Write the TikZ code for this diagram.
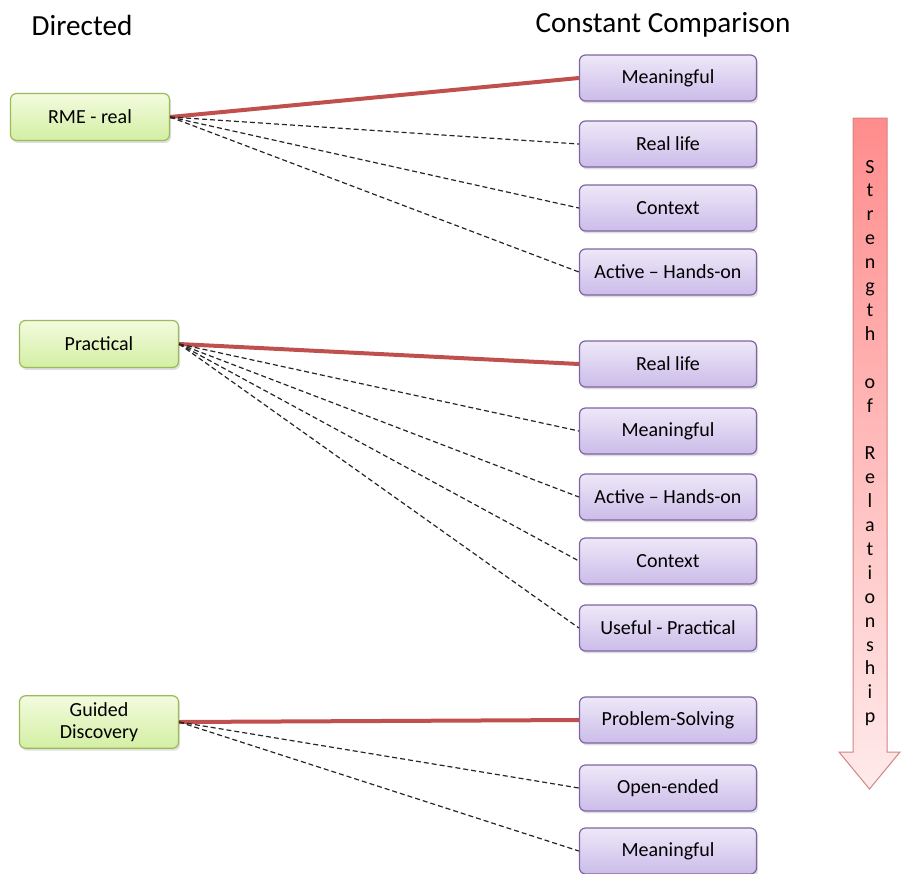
\documentclass[tikz,border=0pt]{standalone}
\usepackage{fontspec}
\setmainfont{Carlito}
\usetikzlibrary{shadows}

\definecolor{strongred}{HTML}{C0504D}
\definecolor{greenedge}{HTML}{9BBB59}
\definecolor{greentop}{HTML}{F3FBDE}
\definecolor{greenbot}{HTML}{D3EFA3}
\definecolor{purpleedge}{HTML}{8064A2}
\definecolor{purpletop}{HTML}{EEE8F8}
\definecolor{purplebot}{HTML}{CBBCE9}

\tikzset{
  leftbox/.style={draw=greenedge, line width=0.6pt, rounded corners=3pt,
    top color=greentop, bottom color=greenbot,
    minimum width=79.5pt, minimum height=23.5pt, align=center,
    font=\fontsize{10}{11}\selectfont,
    drop shadow={shadow xshift=0.8pt, shadow yshift=-1.2pt, opacity=0.25}},
  rightbox/.style={draw=purpleedge, line width=0.6pt, rounded corners=3pt,
    top color=purpletop, bottom color=purplebot,
    minimum width=88.5pt, minimum height=23pt,
    font=\fontsize{10}{11}\selectfont,
    drop shadow={shadow xshift=0.8pt, shadow yshift=-1.2pt, opacity=0.25}},
  strong/.style={draw=strongred, line width=2pt},
  weak/.style={draw=black!85, line width=0.6pt, dash pattern=on 2.5pt off 1.5pt},
  heading/.style={font=\fontsize{14.6}{16}\selectfont}
}

\begin{document}
\begin{tikzpicture}[x=0.5pt, y=-0.5pt]
\useasboundingbox (0,0) rectangle (901,874);
\def\xl{90};
\def\xr{668};

% headings
\node[heading] (directed) at (82,25) {Directed};
\node[heading] (constant) at (663,25) {Constant Comparison};

% strength arrow
\path[draw=strongred!70, line width=0.5pt, top color=red!45, bottom color=red!8]
  (853,118) -- (887,118) -- (887,752) -- (900,752) -- (869.5,789)
  -- (839,752) -- (853,752) -- cycle;
\node[align=center, font=\fontsize{10}{11.95}\selectfont, inner sep=0pt] (strength) at (870,443)
  {S\\t\\r\\e\\n\\g\\t\\h\\\mbox{}\\o\\f\\\mbox{}\\R\\e\\l\\a\\t\\i\\o\\n\\s\\h\\i\\p};

% RME - real
\node[leftbox] (rme) at (\xl,117) {RME - real};
\node[rightbox] (rme1) at (\xr,78) {Meaningful};
\node[rightbox] (rme2) at (\xr,144) {Real life};
\node[rightbox] (rme3) at (\xr,208) {Context};
\node[rightbox] (rme4) at (\xr,272) {Active -- Hands-on};

\draw[strong] (rme.east) -- (rme1.west);
\foreach \t in {rme2,rme3,rme4}
  \draw[weak] (rme.east) -- (\t.west);

% Practical
\node[leftbox] (prac) at (99,344) {Practical};
\node[rightbox] (prac1) at (\xr,364) {Real life};
\node[rightbox] (prac2) at (\xr,431) {Meaningful};
\node[rightbox] (prac3) at (\xr,497) {Active -- Hands-on};
\node[rightbox] (prac4) at (\xr,561) {Context};
\node[rightbox] (prac5) at (\xr,628) {Useful - Practical};

\draw[strong] (prac.east) -- (prac1.west);
\foreach \t in {prac2,prac3,prac4,prac5}
  \draw[weak] (prac.east) -- (\t.west);

% Guided Discovery
\node[leftbox] (guided) at (99,722) {Guided\\Discovery};
\node[rightbox] (guided1) at (\xr,720) {Problem-Solving};
\node[rightbox] (guided2) at (\xr,788) {Open-ended};
\node[rightbox] (guided3) at (\xr,851) {Meaningful};

\draw[strong] (guided.east) -- (guided1.west);
\foreach \t in {guided2,guided3}
  \draw[weak] (guided.east) -- (\t.west);

\end{tikzpicture}
\end{document}
